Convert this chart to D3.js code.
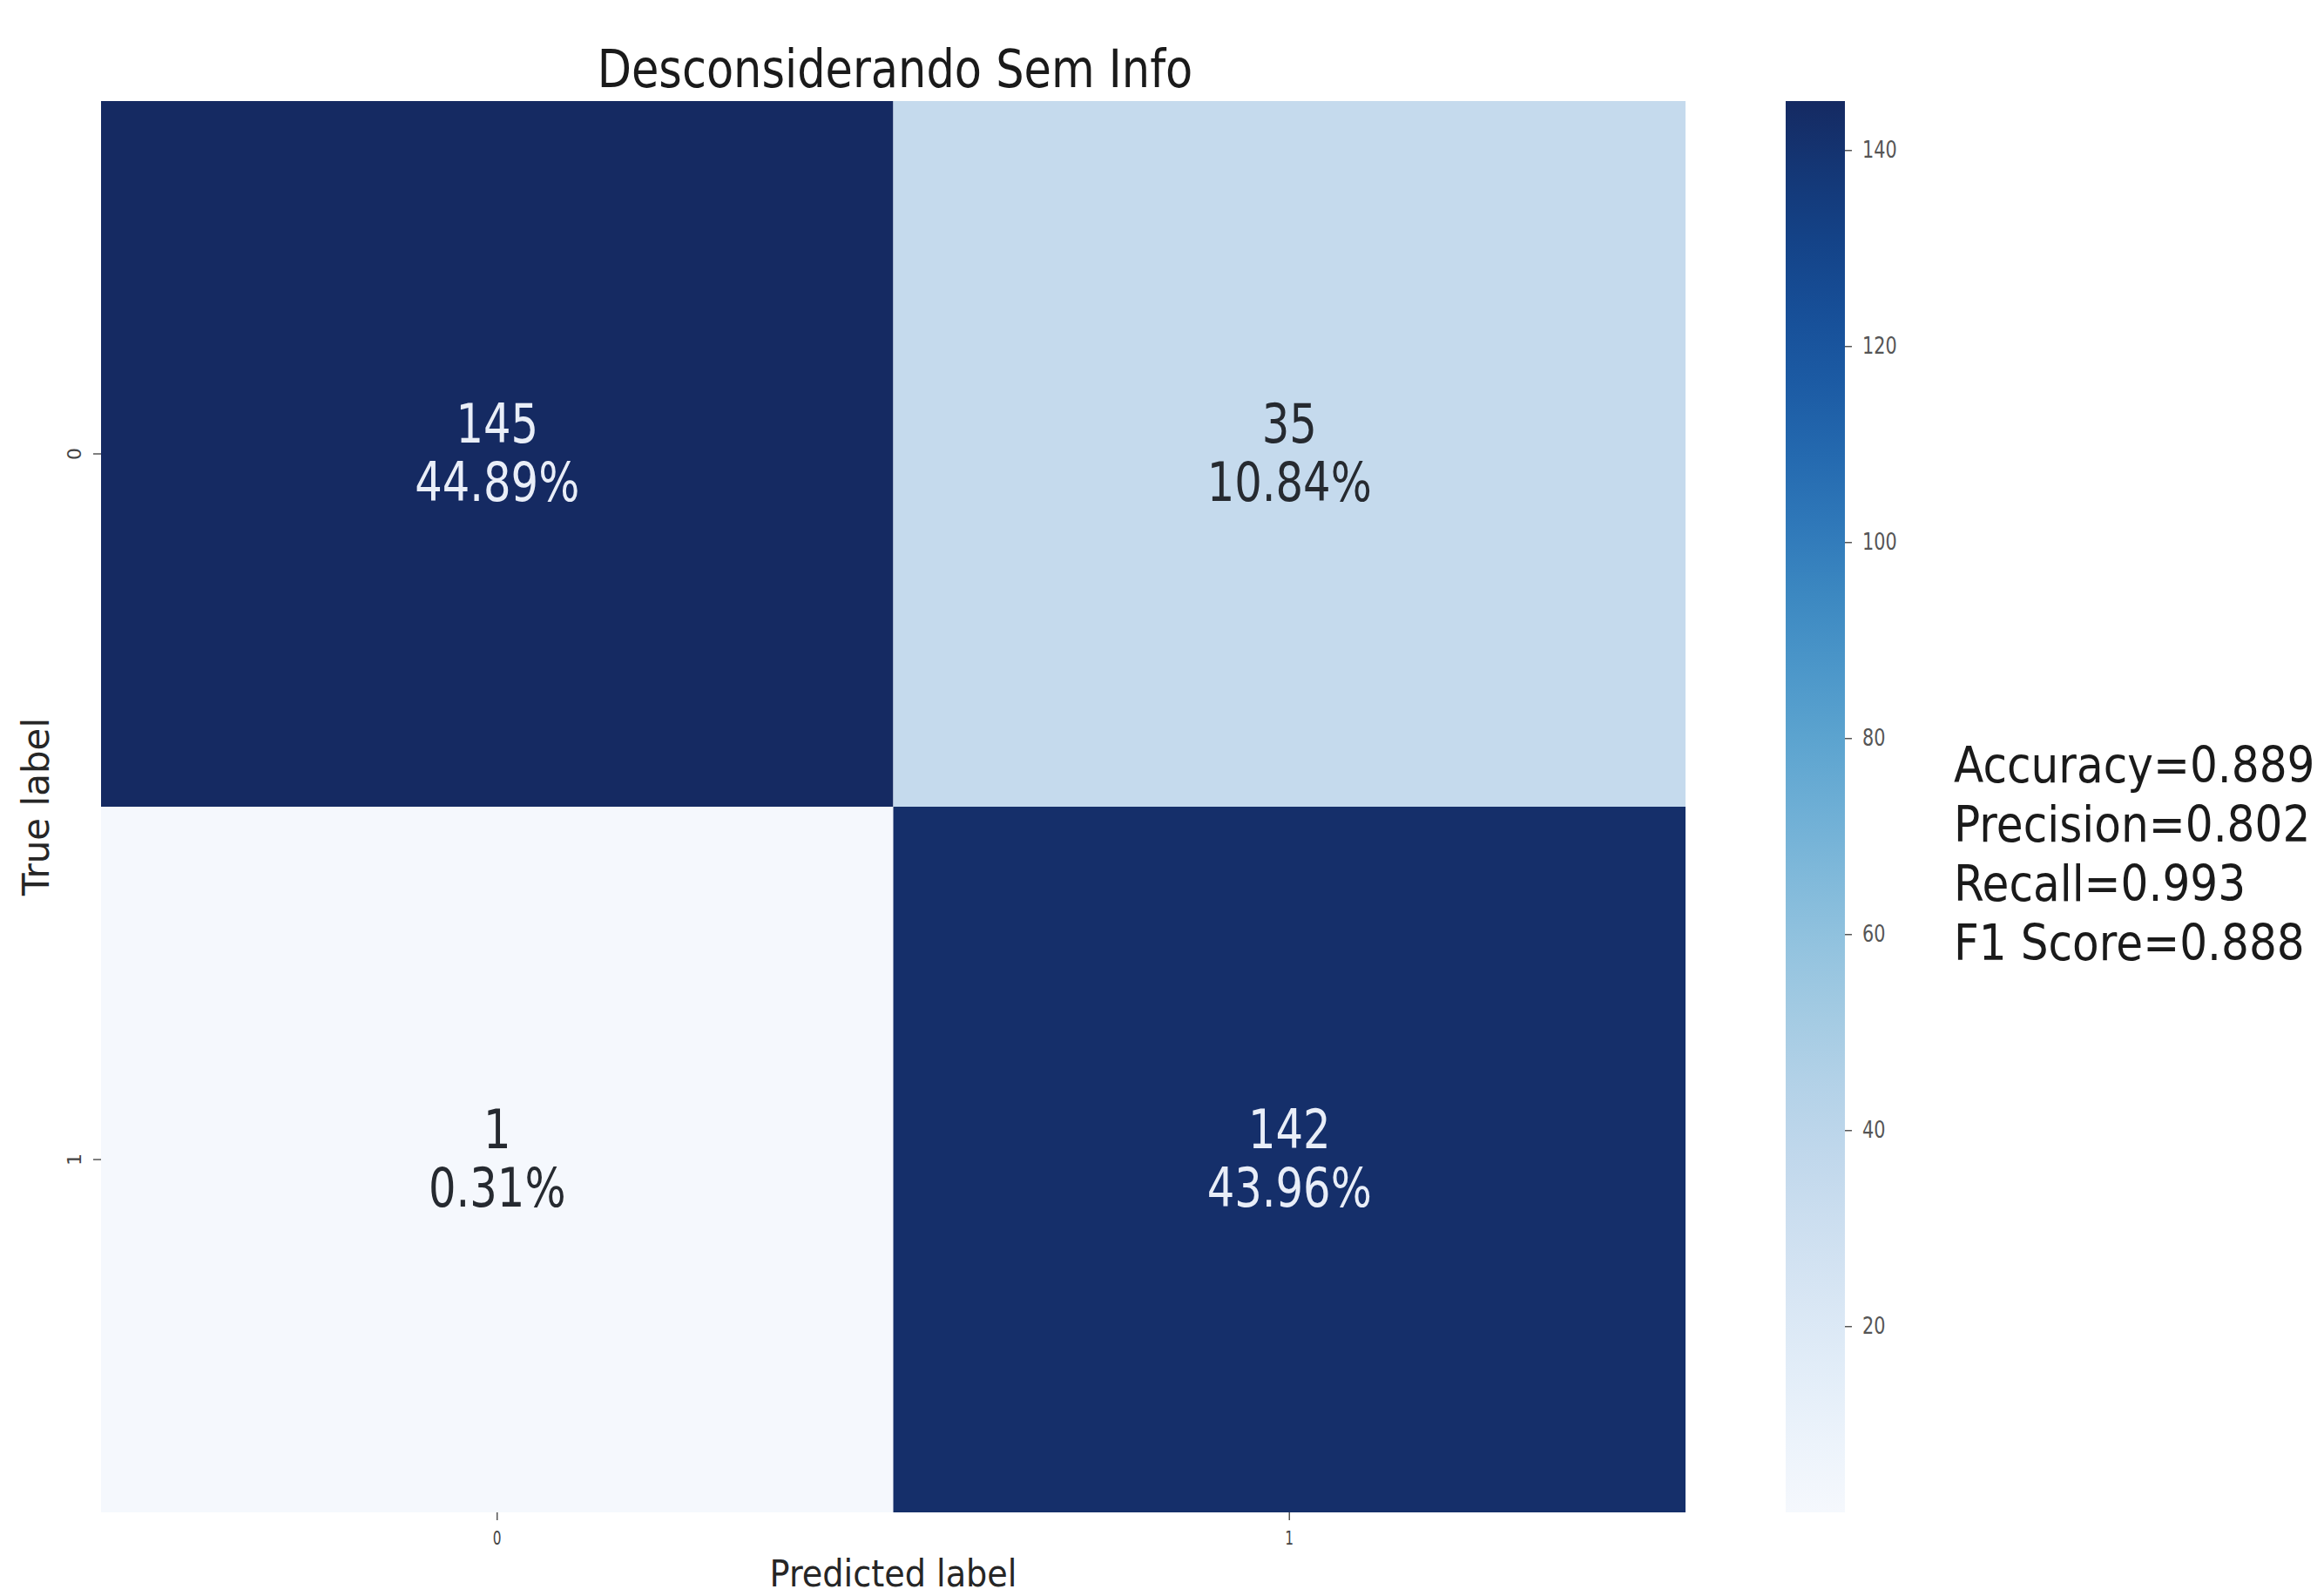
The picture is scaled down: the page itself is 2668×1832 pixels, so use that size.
<!DOCTYPE html>
<html>
<head>
<meta charset="utf-8">
<script src="https://cdn.jsdelivr.net/npm/d3@7"></script>
<style>
  html, body { margin: 0; padding: 0; background: #ffffff; }
  svg { display: block; }
  text { font-family: "DejaVu Sans", sans-serif; }
</style>
</head>
<body>
<script>
// Confusion matrix values
const trueLabels = ["0", "1"];
const predLabels = ["0", "1"];
const counts = [
  [145, 35],
  [1, 142]
];
const colorbarTicks = [20, 40, 60, 80, 100, 120, 140];
const metricNames = ["Accuracy", "Precision", "Recall", "F1 Score"];
const metricValues = [0.889, 0.802, 0.993, 0.888];
const chartTitle = "Desconsiderando Sem Info";

// Blues colormap stops
const blueStops = ["#f5f8fd", "#deebf7", "#c3d7ec", "#9ecae1", "#6baed6",
                   "#4292c6", "#2166b0", "#124a94", "#152a62"];

const W = 2668, H = 1832;
const plot = { left: 116, right: 1935, top: 116, bottom: 1736 };
const cbar = { left: 2050, right: 2118 };

const svg = d3.select("body").append("svg")
  .attr("width", W).attr("height", H);

const x = d3.scaleBand().domain(predLabels).range([plot.left, plot.right]);
const y = d3.scaleBand().domain(trueLabels).range([plot.top, plot.bottom]);

const flat = counts.flat();
const total = d3.sum(flat);
const color = d3.scaleSequential(d3.interpolateRgbBasis(blueStops))
  .domain([d3.min(flat), d3.max(flat)]);

const cells = [];
trueLabels.forEach((t, i) => predLabels.forEach((p, j) => {
  cells.push({ t, p, v: counts[i][j] });
}));

// Heatmap cells
svg.append("g").selectAll("rect").data(cells).join("rect")
  .attr("x", d => x(d.p))
  .attr("y", d => y(d.t))
  .attr("width", x.bandwidth())
  .attr("height", y.bandwidth())
  .attr("fill", d => color(d.v));

// Cell annotations: count and share of total
const annot = svg.append("g").selectAll("g").data(cells).join("g")
  .attr("transform", d =>
    `translate(${x(d.p) + x.bandwidth() / 2},${y(d.t) + y.bandwidth() / 2}) scale(0.8,1)`);
annot.append("text")
  .attr("text-anchor", "middle")
  .attr("y", -13)
  .attr("font-size", 62)
  .attr("fill", d => d.v > 80 ? "#e9eef8" : "#262a30")
  .text(d => d.v);
annot.append("text")
  .attr("text-anchor", "middle")
  .attr("y", 54)
  .attr("font-size", 62)
  .attr("fill", d => d.v > 80 ? "#e9eef8" : "#262a30")
  .text(d => (d.v / total * 100).toFixed(2) + "%");

// Axes
const xAxis = svg.append("g")
  .attr("transform", `translate(0,${plot.bottom})`)
  .call(d3.axisBottom(x).tickSize(9).tickPadding(12));
const yAxis = svg.append("g")
  .attr("transform", `translate(${plot.left},0)`)
  .call(d3.axisLeft(y).tickSize(9).tickPadding(8));
[xAxis, yAxis].forEach(a => {
  a.select(".domain").remove();
  a.selectAll(".tick line").attr("stroke", "#555").attr("stroke-width", 1.5);
  a.selectAll(".tick text").attr("font-size", 22).attr("fill", "#444")
    .attr("font-family", "DejaVu Sans, sans-serif");
});
xAxis.selectAll(".tick text").attr("transform", "scale(0.7,1)");
yAxis.selectAll(".tick text")
  .attr("text-anchor", "middle")
  .attr("x", null).attr("dy", null)
  .attr("transform", "translate(-31,0) rotate(-90)")
  .attr("dy", "0.35em");

// Axis titles
svg.append("text")
  .attr("transform", `translate(${(plot.left + plot.right) / 2},1821) scale(0.91,1)`)
  .attr("text-anchor", "middle").attr("font-size", 42).attr("fill", "#262626")
  .text("Predicted label");
svg.append("text")
  .attr("transform", `translate(56,${(plot.top + plot.bottom) / 2}) rotate(-90)`)
  .attr("text-anchor", "middle").attr("font-size", 42).attr("fill", "#262626")
  .text("True label");

// Title
svg.append("text")
  .attr("transform", `translate(${(plot.left + plot.right) / 2 + 2},100) scale(0.85,1)`)
  .attr("text-anchor", "middle").attr("font-size", 60).attr("fill", "#1a1a1a")
  .text(chartTitle);

// Colorbar
const cy = d3.scaleLinear().domain(color.domain()).range([plot.bottom, plot.top]);
const defs = svg.append("defs");
const grad = defs.append("linearGradient").attr("id", "cbar-grad")
  .attr("x1", 0).attr("y1", 1).attr("x2", 0).attr("y2", 0);
d3.range(0, 1.0001, 0.05).forEach(f => {
  const v = color.domain()[0] + f * (color.domain()[1] - color.domain()[0]);
  grad.append("stop").attr("offset", f).attr("stop-color", color(v));
});
svg.append("rect")
  .attr("x", cbar.left).attr("y", plot.top)
  .attr("width", cbar.right - cbar.left).attr("height", plot.bottom - plot.top)
  .attr("fill", "url(#cbar-grad)");
const cAxis = svg.append("g")
  .attr("transform", `translate(${cbar.right},0)`)
  .call(d3.axisRight(cy).tickValues(colorbarTicks).tickSize(8).tickPadding(12));
cAxis.select(".domain").remove();
cAxis.selectAll(".tick line").attr("stroke", "#555").attr("stroke-width", 1.5);
cAxis.selectAll(".tick text").attr("font-size", 26).attr("fill", "#555")
  .attr("font-family", "DejaVu Sans, sans-serif")
  .attr("transform", "scale(0.8,1)")
  .attr("x", 25);

// Metrics summary
svg.append("g").selectAll("text").data(metricNames).join("text")
  .attr("transform", (d, i) => `translate(2243,${898 + i * 68}) scale(0.88,1)`)
  .attr("font-size", 57).attr("fill", "#1a1a1a")
  .text((d, i) => `${d}=${metricValues[i].toFixed(3)}`);
</script>
</body>
</html>
